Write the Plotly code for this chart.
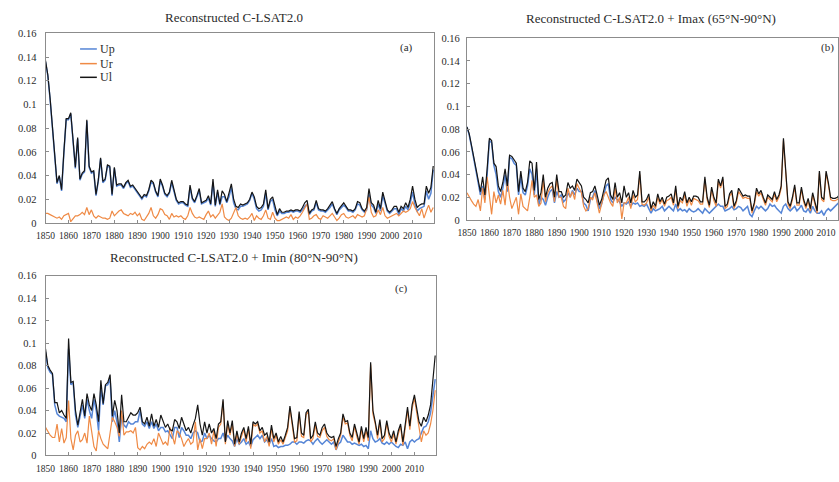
import plotly.graph_objects as go

years = list(range(1850, 2020))

# ---------------- Panel (a): Reconstructed C-LSAT2.0 ----------------
a_up = [0.136, 0.124, 0.104, 0.079, 0.059, 0.033, 0.039, 0.027, 0.059, 0.087,
        0.087, 0.092, 0.069, 0.046, 0.071, 0.036, 0.041, 0.043, 0.086, 0.047,
        0.042, 0.043, 0.023, 0.035, 0.054, 0.034, 0.036, 0.048, 0.047, 0.023,
        0.046, 0.031, 0.032, 0.032, 0.029, 0.033, 0.035, 0.030, 0.031, 0.028,
        0.025, 0.023, 0.020, 0.023, 0.022, 0.027, 0.034, 0.033, 0.026, 0.022,
        0.035, 0.031, 0.024, 0.022, 0.025, 0.034, 0.026, 0.019, 0.016, 0.017,
        0.017, 0.015, 0.014, 0.030, 0.020, 0.017, 0.022, 0.027, 0.016, 0.017,
        0.018, 0.021, 0.015, 0.034, 0.014, 0.026, 0.015, 0.022, 0.022, 0.017,
        0.022, 0.030, 0.017, 0.012, 0.011, 0.014, 0.014, 0.015, 0.016, 0.019,
        0.025, 0.020, 0.012, 0.010, 0.011, 0.014, 0.025, 0.011, 0.018, 0.020,
        0.011, 0.006, 0.010, 0.008, 0.008, 0.009, 0.009, 0.010, 0.009, 0.010,
        0.010, 0.009, 0.011, 0.014, 0.016, 0.007, 0.010, 0.011, 0.017, 0.011,
        0.010, 0.010, 0.009, 0.011, 0.013, 0.016, 0.011, 0.007, 0.011, 0.013,
        0.015, 0.013, 0.010, 0.010, 0.009, 0.011, 0.016, 0.015, 0.011, 0.009,
        0.011, 0.024, 0.015, 0.013, 0.008, 0.016, 0.010, 0.023, 0.016, 0.010,
        0.008, 0.010, 0.012, 0.012, 0.007, 0.012, 0.010, 0.014, 0.011, 0.017,
        0.026, 0.016, 0.010, 0.012, 0.013, 0.014, 0.027, 0.020, 0.025, 0.045]
a_ur = [0.008, 0.008, 0.007, 0.006, 0.005, 0.004, 0.005, 0.003, 0.006, 0.007,
        0.008, 0.001, 0.004, 0.006, 0.006, 0.007, 0.009, 0.007, 0.013, 0.007,
        0.011, 0.006, 0.004, 0.006, 0.005, 0.004, 0.004, 0.003, 0.004, 0.010,
        0.006, 0.008, 0.010, 0.011, 0.008, 0.007, 0.006, 0.008, 0.007, 0.009,
        0.006, 0.008, 0.003, 0.002, 0.005, 0.008, 0.013, 0.006, 0.004, 0.007,
        0.012, 0.011, 0.007, 0.006, 0.003, 0.008, 0.005, 0.006, 0.005, 0.006,
        0.004, 0.003, 0.006, 0.013, 0.008, 0.005, 0.004, 0.005, 0.004, 0.003,
        0.007, 0.010, 0.005, 0.007, 0.004, 0.007, 0.009, 0.016, 0.005, 0.003,
        0.002, 0.004, 0.008, 0.013, 0.006, 0.004, 0.003, 0.004, 0.003, 0.005,
        0.008, 0.002, 0.006, 0.004, 0.003, 0.006, 0.011, 0.004, 0.003, 0.009,
        0.004, 0.002, 0.002, 0.003, 0.004, 0.005, 0.004, 0.007, 0.003, 0.005,
        0.004, 0.006, 0.009, 0.012, 0.016, 0.003, 0.004, 0.006, 0.007, 0.004,
        0.003, 0.006, 0.005, 0.004, 0.006, 0.008, 0.005, 0.002, 0.004, 0.007,
        0.008, 0.005, 0.004, 0.005, 0.006, 0.004, 0.007, 0.006, 0.005, 0.006,
        0.012, 0.022, 0.009, 0.005, 0.006, 0.011, 0.007, 0.013, 0.006, 0.004,
        0.005, 0.006, 0.007, 0.008, 0.006, 0.008, 0.010, 0.009, 0.010, 0.012,
        0.018, 0.013, 0.009, 0.006, 0.012, 0.004, 0.010, 0.015, 0.009, 0.013]
a_ul = [0.137, 0.125, 0.105, 0.080, 0.060, 0.034, 0.040, 0.028, 0.060, 0.088,
        0.088, 0.093, 0.070, 0.047, 0.072, 0.037, 0.042, 0.044, 0.087, 0.048,
        0.043, 0.044, 0.024, 0.036, 0.055, 0.035, 0.037, 0.049, 0.048, 0.024,
        0.047, 0.032, 0.033, 0.033, 0.030, 0.034, 0.036, 0.031, 0.032, 0.029,
        0.026, 0.024, 0.021, 0.024, 0.023, 0.028, 0.036, 0.034, 0.027, 0.023,
        0.037, 0.032, 0.025, 0.023, 0.026, 0.036, 0.027, 0.020, 0.017, 0.018,
        0.018, 0.016, 0.015, 0.032, 0.021, 0.018, 0.023, 0.029, 0.017, 0.018,
        0.019, 0.023, 0.016, 0.037, 0.015, 0.028, 0.016, 0.027, 0.024, 0.018,
        0.025, 0.033, 0.020, 0.014, 0.013, 0.016, 0.015, 0.016, 0.017, 0.020,
        0.026, 0.022, 0.014, 0.012, 0.013, 0.016, 0.028, 0.012, 0.020, 0.022,
        0.013, 0.007, 0.012, 0.009, 0.009, 0.010, 0.010, 0.011, 0.010, 0.011,
        0.011, 0.010, 0.013, 0.017, 0.019, 0.008, 0.011, 0.012, 0.019, 0.012,
        0.011, 0.011, 0.010, 0.012, 0.015, 0.018, 0.012, 0.008, 0.012, 0.015,
        0.017, 0.014, 0.011, 0.011, 0.010, 0.012, 0.018, 0.017, 0.012, 0.010,
        0.013, 0.029, 0.017, 0.015, 0.009, 0.019, 0.012, 0.026, 0.018, 0.011,
        0.009, 0.011, 0.014, 0.014, 0.009, 0.014, 0.012, 0.017, 0.013, 0.020,
        0.031, 0.020, 0.013, 0.015, 0.016, 0.016, 0.031, 0.025, 0.030, 0.048]

# ---------------- Panel (b): + Imax (65N-90N) ----------------
b_up = [0.082, 0.075, 0.065, 0.053, 0.044, 0.033, 0.022, 0.030, 0.018, 0.040,
        0.070, 0.068, 0.048, 0.040, 0.025, 0.020, 0.028, 0.040, 0.025, 0.055,
        0.054, 0.050, 0.048, 0.022, 0.038, 0.024, 0.022, 0.030, 0.045, 0.040,
        0.022, 0.045, 0.013, 0.020, 0.018, 0.013, 0.020, 0.025, 0.027, 0.015,
        0.025, 0.020, 0.022, 0.016, 0.018, 0.024, 0.020, 0.026, 0.022, 0.028,
        0.025, 0.025, 0.015, 0.013, 0.008, 0.018, 0.020, 0.026, 0.017, 0.010,
        0.014, 0.022, 0.030, 0.032, 0.018, 0.015, 0.020, 0.018, 0.016, 0.012,
        0.015, 0.014, 0.016, 0.012, 0.015, 0.014, 0.015, 0.012, 0.013, 0.012,
        0.014, 0.010, 0.006, 0.010, 0.008, 0.009, 0.010, 0.012, 0.008, 0.010,
        0.012, 0.010, 0.008, 0.014, 0.008, 0.010, 0.008, 0.009, 0.007, 0.010,
        0.008, 0.007, 0.008, 0.010, 0.008, 0.006, 0.010, 0.008, 0.006, 0.008,
        0.010, 0.012, 0.014, 0.012, 0.012, 0.008, 0.009, 0.010, 0.012, 0.009,
        0.010, 0.012, 0.011, 0.008, 0.010, 0.012, 0.005, 0.003, 0.008, 0.012,
        0.010, 0.012, 0.010, 0.008, 0.010, 0.014, 0.012, 0.013, 0.010, 0.008,
        0.006, 0.012, 0.014, 0.010, 0.008, 0.010, 0.012, 0.008, 0.010, 0.013,
        0.008, 0.007, 0.010, 0.006, 0.012, 0.008, 0.006, 0.006, 0.008, 0.004,
        0.008, 0.010, 0.008, 0.010, 0.012, 0.014, 0.016, 0.018, 0.020, 0.022]
b_ur = [0.024, 0.020, 0.017, 0.014, 0.012, 0.018, 0.008, 0.028, 0.015, 0.038,
        0.020, 0.005, 0.025, 0.015, 0.022, 0.014, 0.026, 0.013, 0.035, 0.020,
        0.010, 0.015, 0.020, 0.005, 0.023, 0.012, 0.010, 0.008, 0.020, 0.035,
        0.020, 0.022, 0.012, 0.015, 0.035, 0.016, 0.024, 0.028, 0.030, 0.016,
        0.036, 0.020, 0.020, 0.012, 0.010, 0.028, 0.020, 0.025, 0.018, 0.032,
        0.028, 0.024, 0.012, 0.008, 0.010, 0.020, 0.018, 0.024, 0.015, 0.006,
        0.014, 0.022, 0.025, 0.020, 0.015, 0.012, 0.028, 0.015, 0.020, 0.001,
        0.015, 0.015, 0.020, 0.010, 0.022, 0.016, 0.018, 0.040, 0.014, 0.013,
        0.015, 0.020, 0.008, 0.013, 0.010, 0.020, 0.014, 0.018, 0.012, 0.017,
        0.018, 0.020, 0.013, 0.027, 0.010, 0.017, 0.015, 0.022, 0.012, 0.018,
        0.013, 0.019, 0.018, 0.017, 0.014, 0.014, 0.036, 0.018, 0.011, 0.027,
        0.017, 0.012, 0.034, 0.028, 0.036, 0.010, 0.012, 0.021, 0.024, 0.010,
        0.015, 0.025, 0.022, 0.019, 0.020, 0.019, 0.019, 0.006, 0.013, 0.025,
        0.021, 0.024, 0.018, 0.013, 0.020, 0.018, 0.016, 0.023, 0.016, 0.020,
        0.028, 0.070, 0.038, 0.014, 0.010, 0.018, 0.029, 0.013, 0.013, 0.027,
        0.016, 0.010, 0.017, 0.008, 0.022, 0.013, 0.006, 0.041, 0.018, 0.016,
        0.041, 0.031, 0.018, 0.017, 0.017, 0.018, 0.020, 0.022, 0.018, 0.015]
b_ul = [0.082, 0.076, 0.066, 0.055, 0.045, 0.035, 0.025, 0.038, 0.022, 0.045,
        0.072, 0.070, 0.050, 0.047, 0.030, 0.025, 0.033, 0.045, 0.030, 0.057,
        0.056, 0.053, 0.050, 0.025, 0.043, 0.028, 0.025, 0.033, 0.052, 0.050,
        0.026, 0.051, 0.018, 0.024, 0.040, 0.020, 0.028, 0.032, 0.033, 0.020,
        0.040, 0.025, 0.025, 0.020, 0.022, 0.033, 0.028, 0.030, 0.026, 0.036,
        0.033, 0.030, 0.020, 0.018, 0.015, 0.024, 0.025, 0.030, 0.022, 0.013,
        0.018, 0.027, 0.035, 0.037, 0.022, 0.018, 0.033, 0.020, 0.024, 0.015,
        0.030, 0.020, 0.024, 0.015, 0.026, 0.020, 0.022, 0.043, 0.016, 0.016,
        0.018, 0.023, 0.010, 0.016, 0.012, 0.023, 0.016, 0.020, 0.014, 0.020,
        0.021, 0.023, 0.015, 0.030, 0.012, 0.020, 0.017, 0.025, 0.015, 0.020,
        0.016, 0.021, 0.021, 0.020, 0.016, 0.016, 0.038, 0.020, 0.013, 0.029,
        0.020, 0.015, 0.036, 0.030, 0.038, 0.012, 0.014, 0.023, 0.026, 0.012,
        0.017, 0.028, 0.024, 0.021, 0.022, 0.021, 0.021, 0.008, 0.015, 0.028,
        0.023, 0.026, 0.020, 0.015, 0.022, 0.020, 0.018, 0.025, 0.018, 0.022,
        0.030, 0.072, 0.040, 0.016, 0.012, 0.020, 0.031, 0.015, 0.015, 0.029,
        0.018, 0.012, 0.019, 0.010, 0.024, 0.015, 0.008, 0.043, 0.020, 0.018,
        0.043, 0.033, 0.020, 0.019, 0.019, 0.020, 0.022, 0.025, 0.028, 0.030]

# ---------------- Panel (c): + Imin (80N-90N) ----------------
c_up = [0.092, 0.078, 0.074, 0.072, 0.045, 0.037, 0.035, 0.034, 0.033, 0.030,
        0.095, 0.063, 0.065, 0.036, 0.025, 0.035, 0.045, 0.033, 0.050, 0.040,
        0.033, 0.050, 0.040, 0.022, 0.060, 0.045, 0.062, 0.063, 0.068, 0.030,
        0.040, 0.030, 0.012, 0.035, 0.027, 0.025, 0.030, 0.028, 0.028, 0.030,
        0.030, 0.040, 0.028, 0.026, 0.030, 0.024, 0.030, 0.024, 0.028, 0.022,
        0.025, 0.025, 0.021, 0.022, 0.018, 0.015, 0.025, 0.025, 0.016, 0.025,
        0.022, 0.018, 0.018, 0.015, 0.020, 0.022, 0.020, 0.012, 0.013, 0.020,
        0.015, 0.018, 0.015, 0.013, 0.012, 0.015, 0.015, 0.020, 0.013, 0.018,
        0.015, 0.013, 0.008, 0.015, 0.010, 0.012, 0.015, 0.010, 0.012, 0.008,
        0.014, 0.016, 0.018, 0.015, 0.018, 0.012, 0.014, 0.010, 0.015, 0.008,
        0.009, 0.007, 0.008, 0.008, 0.009, 0.009, 0.010, 0.012, 0.012, 0.010,
        0.012, 0.012, 0.011, 0.013, 0.014, 0.013, 0.010, 0.013, 0.015, 0.012,
        0.010, 0.012, 0.014, 0.012, 0.010, 0.012, 0.005, 0.010, 0.012, 0.018,
        0.015, 0.012, 0.012, 0.010, 0.011, 0.010, 0.009, 0.010, 0.008, 0.009,
        0.006, 0.022, 0.015, 0.012, 0.013, 0.015, 0.011, 0.010, 0.012, 0.010,
        0.012, 0.010, 0.008, 0.007, 0.010, 0.009, 0.012, 0.006, 0.012, 0.014,
        0.012, 0.014, 0.015, 0.020, 0.025, 0.026, 0.030, 0.038, 0.055, 0.068]
c_ur = [0.025, 0.021, 0.018, 0.016, 0.016, 0.028, 0.012, 0.024, 0.011, 0.016,
        0.049, 0.015, 0.005, 0.018, 0.022, 0.012, 0.014, 0.020, 0.011, 0.035,
        0.020, 0.008, 0.004, 0.022, 0.015, 0.010, 0.008, 0.006, 0.020, 0.034,
        0.030, 0.025, 0.017, 0.040, 0.018, 0.021, 0.021, 0.022, 0.020, 0.025,
        0.007, 0.005, 0.008, 0.006, 0.010, 0.012, 0.010, 0.015, 0.008, 0.020,
        0.015, 0.010, 0.012, 0.009, 0.025, 0.018, 0.010, 0.022, 0.020, 0.015,
        0.008, 0.012, 0.015, 0.010, 0.012, 0.030, 0.005, 0.015, 0.006, 0.015,
        0.015, 0.020, 0.010, 0.022, 0.008, 0.025, 0.028, 0.048, 0.010, 0.028,
        0.018, 0.028, 0.008, 0.019, 0.010, 0.017, 0.023, 0.012, 0.024, 0.006,
        0.028, 0.026, 0.028, 0.020, 0.022, 0.012, 0.017, 0.008, 0.024, 0.012,
        0.018, 0.010, 0.014, 0.010, 0.016, 0.022, 0.042, 0.028, 0.012, 0.013,
        0.037, 0.017, 0.016, 0.036, 0.039, 0.012, 0.015, 0.027, 0.017, 0.016,
        0.022, 0.025, 0.017, 0.014, 0.013, 0.015, 0.005, 0.012, 0.018, 0.034,
        0.028, 0.029, 0.018, 0.013, 0.026, 0.017, 0.010, 0.023, 0.012, 0.022,
        0.013, 0.081, 0.037, 0.028, 0.015, 0.030, 0.012, 0.015, 0.029, 0.017,
        0.012, 0.019, 0.010, 0.019, 0.026, 0.009, 0.025, 0.040, 0.023, 0.042,
        0.051, 0.036, 0.025, 0.012, 0.022, 0.018, 0.020, 0.028, 0.040, 0.058]
c_ul = [0.095, 0.080, 0.076, 0.073, 0.047, 0.047, 0.038, 0.040, 0.036, 0.033,
        0.104, 0.065, 0.066, 0.040, 0.027, 0.040, 0.050, 0.035, 0.055, 0.045,
        0.040, 0.055, 0.045, 0.030, 0.067, 0.046, 0.063, 0.065, 0.072, 0.035,
        0.049, 0.040, 0.020, 0.054, 0.030, 0.030, 0.034, 0.038, 0.036, 0.036,
        0.038, 0.043, 0.030, 0.028, 0.034, 0.026, 0.037, 0.026, 0.032, 0.025,
        0.036, 0.030, 0.025, 0.028, 0.023, 0.022, 0.032, 0.030, 0.024, 0.034,
        0.028, 0.022, 0.025, 0.020, 0.027, 0.033, 0.045, 0.028, 0.018, 0.030,
        0.020, 0.028, 0.020, 0.024, 0.015, 0.028, 0.030, 0.050, 0.012, 0.031,
        0.020, 0.031, 0.010, 0.022, 0.012, 0.020, 0.025, 0.015, 0.026, 0.010,
        0.030, 0.028, 0.030, 0.022, 0.025, 0.018, 0.020, 0.012, 0.027, 0.015,
        0.020, 0.012, 0.017, 0.012, 0.018, 0.025, 0.044, 0.030, 0.015, 0.016,
        0.039, 0.020, 0.018, 0.038, 0.041, 0.015, 0.018, 0.030, 0.020, 0.018,
        0.025, 0.028, 0.020, 0.017, 0.016, 0.017, 0.008, 0.015, 0.020, 0.037,
        0.030, 0.031, 0.020, 0.016, 0.028, 0.020, 0.012, 0.026, 0.015, 0.025,
        0.016, 0.083, 0.040, 0.030, 0.018, 0.032, 0.015, 0.018, 0.031, 0.020,
        0.015, 0.022, 0.012, 0.022, 0.028, 0.012, 0.028, 0.043, 0.026, 0.045,
        0.054, 0.040, 0.030, 0.026, 0.034, 0.030, 0.036, 0.045, 0.068, 0.089]

series_names = ["Up", "Ur", "Ul"]
colors = {"Up": "#5585d6", "Ur": "#ef8a45", "Ul": "#151515"}
widths = {"Up": 1.5, "Ur": 1.2, "Ul": 1.2}
panels = [
    ("x", "y", {"Up": a_up, "Ur": a_ur, "Ul": a_ul}),
    ("x2", "y2", {"Up": b_up, "Ur": b_ur, "Ul": b_ul}),
    ("x3", "y3", {"Up": c_up, "Ur": c_ur, "Ul": c_ul}),
]

FONT = "Liberation Serif"
TXT = "#2b2b2b"
fig = go.Figure()
for xa, ya, data in panels:
    for name in series_names:
        fig.add_trace(go.Scatter(
            x=years, y=data[name], mode="lines", name=name,
            line=dict(color=colors[name], width=widths[name]),
            xaxis=xa, yaxis=ya, showlegend=False))

W, H = 839, 482
def dx(a, b):
    return [a / W, b / W]
def dy(top, bottom):
    return [(H - bottom) / H, (H - top) / H]

axcommon = dict(showline=True, linecolor="#8c8c8c", linewidth=1, mirror=True,
                showgrid=False, zeroline=False, ticks="inside", ticklen=3,
                tickcolor="#8c8c8c")
xticks = list(range(1850, 2020, 10))
xcommon = dict(axcommon, tickmode="array", tickvals=xticks,
               ticktext=[str(v) for v in xticks], ticklabelstandoff=4,
               tickfont=dict(family=FONT, size=9.5, color=TXT))
yticks = [0, 0.02, 0.04, 0.06, 0.08, 0.1, 0.12, 0.14, 0.16]
ytext = ["0", "0.02", "0.04", "0.06", "0.08", "0.1", "0.12", "0.14", "0.16"]
ycommon = dict(axcommon, range=[0, 0.16], tickmode="array", tickvals=yticks,
               ticktext=ytext, tickfont=dict(family=FONT, size=10.5, color=TXT))

fig.update_layout(
    width=W, height=H, margin=dict(l=0, r=0, t=0, b=0),
    paper_bgcolor="white", plot_bgcolor="white",
    font=dict(family=FONT, color=TXT), showlegend=False,
    xaxis=dict(xcommon, domain=dx(36, 430), range=[1850, 2019.5], anchor="y"),
    yaxis=dict(ycommon, domain=dy(29, 223), anchor="x", ticklabelstandoff=6),
    xaxis2=dict(xcommon, domain=dx(463, 839), range=[1850, 2015.3], anchor="y2"),
    yaxis2=dict(ycommon, domain=dy(34, 220), anchor="x2", ticklabelstandoff=4),
    xaxis3=dict(xcommon, domain=dx(36, 432), range=[1850, 2019.5], anchor="y3"),
    yaxis3=dict(ycommon, domain=dy(277, 461), anchor="x3", ticklabelstandoff=6),
)

# manual legend for panel (a)
legend_rows = [("Up", 45), ("Ur", 60), ("Ul", 74)]
for name, py in legend_rows:
    fig.add_shape(type="line", xref="paper", yref="paper",
                  x0=71 / W, x1=88 / W, y0=(H - py) / H, y1=(H - py) / H,
                  line=dict(color=colors[name], width=1.5))
    fig.add_annotation(text=name, x=89 / W, y=(H - py) / H, xref="paper", yref="paper",
                       showarrow=False, xanchor="left", yanchor="middle",
                       font=dict(family=FONT, size=12, color=TXT))

annots = [
    ("Reconstructed C-LSAT2.0", 227, 13, 13),
    ("Reconstructed C-LSAT2.0 + Imax (65°N-90°N)", 650, 14, 13),
    ("Reconstructed C-LSAT2.0 + Imin (80°N-90°N)", 227, 258, 13),
    ("(a)", 402, 44, 11),
    ("(b)", 828, 44, 11),
    ("(c)", 397, 290, 11),
]
for text, px, py, size in annots:
    fig.add_annotation(text=text, x=px / W, y=(H - py) / H, xref="paper", yref="paper",
                       showarrow=False, xanchor="center", yanchor="middle",
                       font=dict(family=FONT, size=size, color=TXT))

fig.write_html("out.html")
